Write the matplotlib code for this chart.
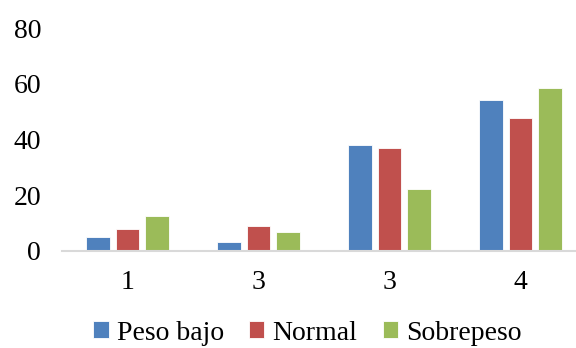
import matplotlib
matplotlib.use("Agg")
import matplotlib.pyplot as plt
import numpy as np

# datos
categorias = ["1", "3", "3", "4"]
peso_bajo = [5.0, 3.2, 38.0, 54.3]
normal = [7.9, 9.0, 36.9, 47.7]
sobrepeso = [12.6, 6.8, 22.2, 58.6]
series = ["Peso bajo", "Normal", "Sobrepeso"]
colores = ["#4F81BD", "#C0504D", "#9BBB59"]

plt.rcParams['font.family'] = ['Liberation Serif', 'DejaVu Serif']

fig = plt.figure(figsize=(5.76, 3.48), dpi=100)
ax = fig.add_axes([62/576, 1-251/348, 514/576, 223/348])

x = np.arange(len(categorias))
ancho = 0.18
paso = 0.225
for i, (vals, nom) in enumerate(zip([peso_bajo, normal, sobrepeso], series)):
    ax.bar(x + (i-1)*paso, vals, ancho, color=colores[i], edgecolor="white",
           linewidth=0.6, label=nom)

ax.set_xlim(-0.5, 3.424)
ax.set_ylim(0, 80)
ax.set_yticks([0, 20, 40, 60, 80])
ax.set_xticks(x)
ax.set_xticklabels(categorias)
for s in ["top", "right", "left"]:
    ax.spines[s].set_visible(False)
ax.spines["bottom"].set_color("#D9D9D9")
ax.spines["bottom"].set_linewidth(1.5)
ax.tick_params(axis="both", length=0, labelsize=20, colors="black")
ax.tick_params(axis="y", pad=15)
ax.tick_params(axis="x", pad=14)

# leyenda abajo, un poco mas arriba pour ne pas couper le texte
ax.legend(loc="center", bbox_to_anchor=(307.5/576, 1-333/348), bbox_transform=fig.transFigure,
          ncol=3, frameon=False, fontsize=20, handlelength=0.55, handleheight=0.55,
          handletextpad=0.3, columnspacing=0.9, borderpad=0)

fig.savefig("out.png", dpi=100)
